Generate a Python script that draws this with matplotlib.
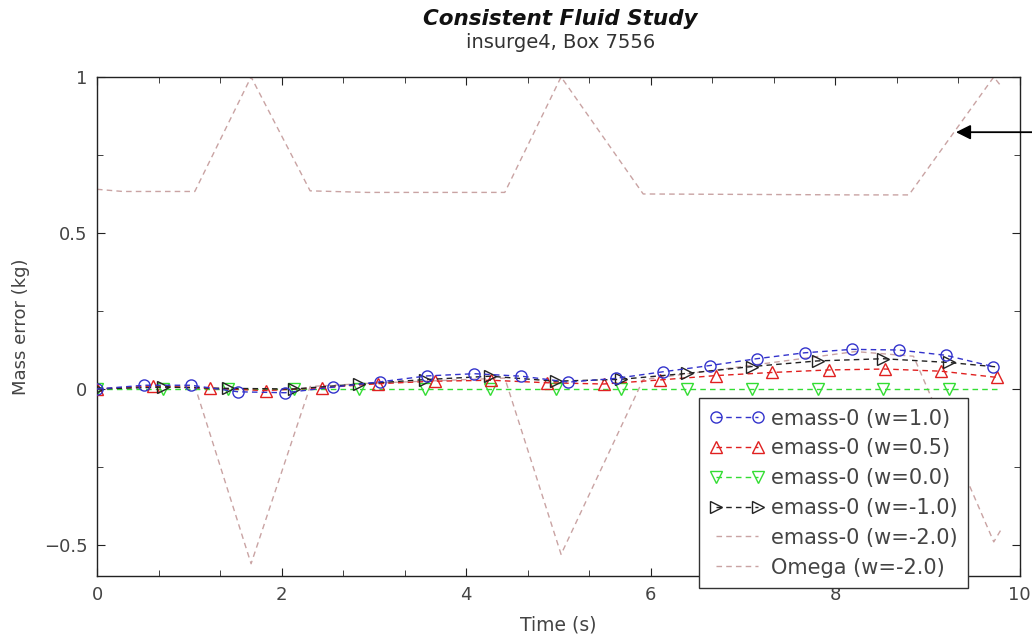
import matplotlib
matplotlib.use("Agg")
import matplotlib.pyplot as plt
from matplotlib.ticker import MultipleLocator, AutoMinorLocator, FuncFormatter

# emass-0 (w=1.0)
t_w10 = [0, 0.51, 1.02, 1.53, 2.04, 2.56, 3.07, 3.58, 4.09, 4.60,
         5.11, 5.62, 6.13, 6.64, 7.15, 7.67, 8.18, 8.69, 9.20, 9.71]
m_w10 = [0, 0.012, 0.012, -0.009, -0.012, 0.006, 0.023, 0.042, 0.049, 0.041,
         0.022, 0.034, 0.055, 0.075, 0.097, 0.116, 0.127, 0.125, 0.108, 0.072]

# emass-0 (w=0.5)
t_w05 = [0, 0.61, 1.22, 1.83, 2.44, 3.05, 3.66, 4.27, 4.88,
         5.49, 6.10, 6.71, 7.32, 7.93, 8.54, 9.15, 9.76]
m_w05 = [0, 0.010, 0.002, -0.005, 0.004, 0.017, 0.025, 0.028, 0.020,
         0.016, 0.029, 0.043, 0.053, 0.061, 0.064, 0.057, 0.037]

# emass-0 (w=0.0)
t_w00 = [0, 0.71, 1.42, 2.13, 2.84, 3.55, 4.26, 4.97, 5.68, 6.39,
         7.10, 7.81, 8.52, 9.23, 9.80]
m_w00 = [0, 0, 0, 0, 0, 0, 0, 0, 0, 0, 0, 0, 0, 0, 0]

# emass-0 (w=-1.0)
t_wm1 = [0, 0.71, 1.42, 2.13, 2.84, 3.55, 4.26, 4.97, 5.68, 6.39,
         7.10, 7.81, 8.52, 9.23, 9.78]
m_wm1 = [0, 0.006, 0.002, 0, 0.016, 0.030, 0.041, 0.025, 0.031, 0.050,
         0.072, 0.090, 0.097, 0.085, 0.070]

# emass-0 (w=-2.0)
t_wm2 = [0, 0.28, 1.06, 1.67, 2.31, 2.93, 4.42, 5.03, 5.92, 8.22, 8.85, 9.72, 9.80]
m_wm2 = [0, 0.004, 0.010, -0.56, 0.008, 0.018, 0.035, -0.53, 0.030, 0.120, 0.105, -0.49, -0.45]

# Omega (w=-2.0)
t_om = [0, 0.28, 1.06, 1.67, 2.31, 2.93, 4.42, 5.03, 5.92, 8.22, 8.80, 9.72, 9.80]
v_om = [0.640, 0.633, 0.633, 1.0, 0.635, 0.630, 0.630, 1.0, 0.625, 0.622, 0.622, 1.0, 0.97]

labels = ["emass-0 (w=1.0)", "emass-0 (w=0.5)", "emass-0 (w=0.0)",
          "emass-0 (w=-1.0)", "emass-0 (w=-2.0)", "Omega (w=-2.0)"]

plt.rcParams["font.family"] = ["DejaVu Sans"]

fig = plt.figure(figsize=(10.32, 6.36), dpi=100)
ax = fig.add_axes([0.094, 0.094, 0.894, 0.785])

pink = "#c9a3a3"
l_om, = ax.plot(t_om, v_om, ls="--", color=pink, lw=1.0, dashes=(4, 3), zorder=1)
l_m2, = ax.plot(t_wm2, m_wm2, ls="--", color=pink, lw=1.0, dashes=(4, 3), zorder=1)

l_00, = ax.plot(t_w00, m_w00, ls="--", color="#33dd33", lw=1.0, dashes=(4, 3),
                marker="v", ms=8, mfc="none", mec="#33dd33", mew=1.0,
                markevery=slice(0, 14), zorder=2)
l_05, = ax.plot(t_w05, m_w05, ls="--", color="#e02020", lw=1.0, dashes=(4, 3),
                marker="^", ms=8, mfc="none", mec="#e02020", mew=1.0, zorder=3)
l_m1, = ax.plot(t_wm1, m_wm1, ls="--", color="#222222", lw=1.0, dashes=(4, 3),
                marker=">", ms=8, mfc="none", mec="#222222", mew=1.0,
                markevery=slice(0, 14), zorder=4)
l_10, = ax.plot(t_w10, m_w10, ls="--", color="#3333cc", lw=1.0, dashes=(4, 3),
                marker="o", ms=8, mfc="none", mec="#3333cc", mew=1.0, zorder=5)

ax.set_xlim(0, 10)
ax.set_ylim(-0.6, 1.0)

ax.xaxis.set_major_locator(MultipleLocator(2))
ax.xaxis.set_minor_locator(AutoMinorLocator(3))
ax.yaxis.set_major_locator(MultipleLocator(0.5))
ax.yaxis.set_minor_locator(AutoMinorLocator(2))
ax.xaxis.set_major_formatter(FuncFormatter(lambda v, p: "%g" % v if abs(v) > 1e-9 else "0"))
ax.yaxis.set_major_formatter(FuncFormatter(
    lambda v, p: ("%g" % v).replace("-", "\u2212") if abs(v) > 1e-9 else "0"))
ax.tick_params(which="both", direction="in", top=True, right=True, labelsize=13,
               colors="#222222", labelcolor="#444444", pad=7)
ax.tick_params(which="major", length=6)
ax.tick_params(which="minor", length=4)
for s in ax.spines.values():
    s.set_linewidth(1.0)
    s.set_color("#222222")

ax.set_xlabel("Time (s)", fontsize=13.5, color="#444444", labelpad=8)
ax.set_ylabel("Mass error (kg)", fontsize=13, color="#444444", labelpad=10)

fig.text(0.543, 0.970, "Consistent Fluid Study", ha="center", va="center",
         fontsize=15.5, style="italic", weight="semibold", color="#111111")
fig.text(0.543, 0.933, "insurge4, Box 7556", ha="center", va="center",
         fontsize=14, color="#333333")

# arrow coming in from the right edge
ax.annotate("", xy=(9.28, 0.823), xytext=(10.4, 0.823),
            arrowprops=dict(arrowstyle="-|>", color="black", lw=1.3,
                            mutation_scale=22),
            annotation_clip=False)

handles = [l_10, l_05, l_00, l_m1, l_m2, l_om]
leg = ax.legend(handles, labels, loc="lower right",
                bbox_to_anchor=(0.951, -0.036), numpoints=2, fontsize=15,
                frameon=True, fancybox=False, handlelength=2.6,
                labelspacing=0.47, borderpad=0.5, handletextpad=0.35,
                borderaxespad=0.3)
leg.get_frame().set_edgecolor("#333333")
leg.get_frame().set_linewidth(1.0)
leg.get_frame().set_alpha(1.0)
for txt in leg.get_texts():
    txt.set_color("#444444")

fig.savefig("out.png", dpi=100)
